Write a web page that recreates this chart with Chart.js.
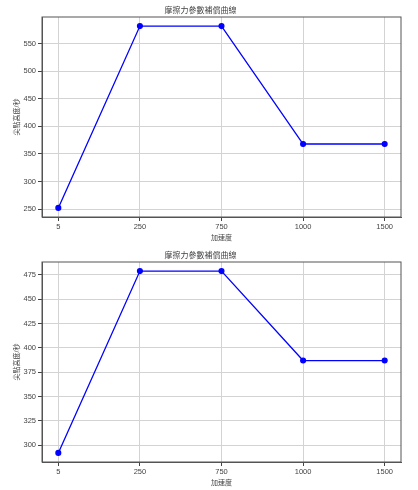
<!DOCTYPE html>
<html>
<head>
<meta charset="utf-8">
<script src="https://cdn.jsdelivr.net/npm/chart.js@4"></script>
<style>
  html, body { margin: 0; padding: 0; background: #fff; }
  .box { width: 418px; height: 245px; position: relative; }
</style>
</head>
<body>
<div class="box"><canvas id="chartTop"></canvas></div>
<div class="box"><canvas id="chartBottom"></canvas></div>
<script>
const categories = ['5', '250', '750', '1000', '1500'];
const topValues = [252, 582, 582, 368, 368];
const bottomValues = [292, 479, 479, 387, 387];
const topTicks = [250, 300, 350, 400, 450, 500, 550];
const bottomTicks = [300, 325, 350, 375, 400, 425, 450, 475];

const titleText = '摩擦力參數補償曲線';
const xTitle = '加速度';
const yTitle = '尖點高度/秒';

const fontFamily = "'Liberation Sans', 'Noto Sans CJK TC', sans-serif";
const textColor = '#444';

function makeChart(canvasId, values, ticks) {
	const lo = Math.min(...values);
	const hi = Math.max(...values);
	const pad = (hi - lo) * 0.05;

	const points = values.map((v, i) => ({ x: i, y: v }));

	return new Chart(document.getElementById(canvasId), {
		type: 'line',
		data: {
			datasets: [{
				data: points,
				borderColor: '#0000ff',
				backgroundColor: '#0000ff',
				borderWidth: 1.3,
				pointRadius: 2.4,
				pointHoverRadius: 2.4,
				tension: 0
			}]
		},
		options: {
			responsive: true,
			maintainAspectRatio: false,
			animation: false,
			layout: { padding: { left: 0, right: 17, top: 0, bottom: 0 } },
			plugins: {
				legend: { display: false },
				tooltip: { enabled: false },
				title: {
					display: true,
					text: titleText,
					color: textColor,
					font: { family: fontFamily, size: 8, weight: 'normal' },
					padding: { top: 6, bottom: 1.4 }
				}
			},
			scales: {
				x: {
					type: 'linear',
					min: -0.2,
					max: categories.length - 1 + 0.2,
					afterBuildTicks: (scale) => {
						scale.ticks = categories.map((c, i) => ({ value: i }));
					},
					afterFit: (scale) => { scale.height = 28; },
					ticks: {
						callback: (v) => categories[v],
						color: textColor,
						font: { family: fontFamily, size: 7.5 },
						padding: 1,
						maxRotation: 0
					},
					grid: {
						color: '#d3d3d3',
						tickColor: '#444',
						tickLength: 4
					},
					border: { color: '#555', width: 1 },
					title: {
						display: true,
						text: xTitle,
						color: textColor,
						font: { family: fontFamily, size: 7 },
						padding: { top: 0, bottom: 3 }
					}
				},
				y: {
					min: lo - pad,
					max: hi + pad,
					afterBuildTicks: (scale) => {
						scale.ticks = ticks.map(v => ({ value: v }));
					},
					afterFit: (scale) => { scale.width = 42; },
					ticks: {
						color: textColor,
						font: { family: fontFamily, size: 7.5 },
						padding: 2
					},
					grid: {
						color: '#d3d3d3',
						tickColor: '#444',
						tickLength: 4
					},
					border: { color: '#555', width: 1 },
					title: {
						display: true,
						text: yTitle,
						color: textColor,
						font: { family: fontFamily, size: 7 },
						padding: { top: 13, bottom: 0 }
					}
				}
			}
		},
		plugins: [{
			id: 'frame',
			afterDraw(chart) {
				const { ctx, chartArea: a } = chart;
				ctx.save();
				ctx.strokeStyle = '#555';
				ctx.lineWidth = 1;
				ctx.strokeRect(a.left, a.top, a.right - a.left, a.bottom - a.top);
				ctx.restore();
			}
		}]
	});
}

makeChart('chartTop', topValues, topTicks);
makeChart('chartBottom', bottomValues, bottomTicks);
</script>
</body>
</html>
